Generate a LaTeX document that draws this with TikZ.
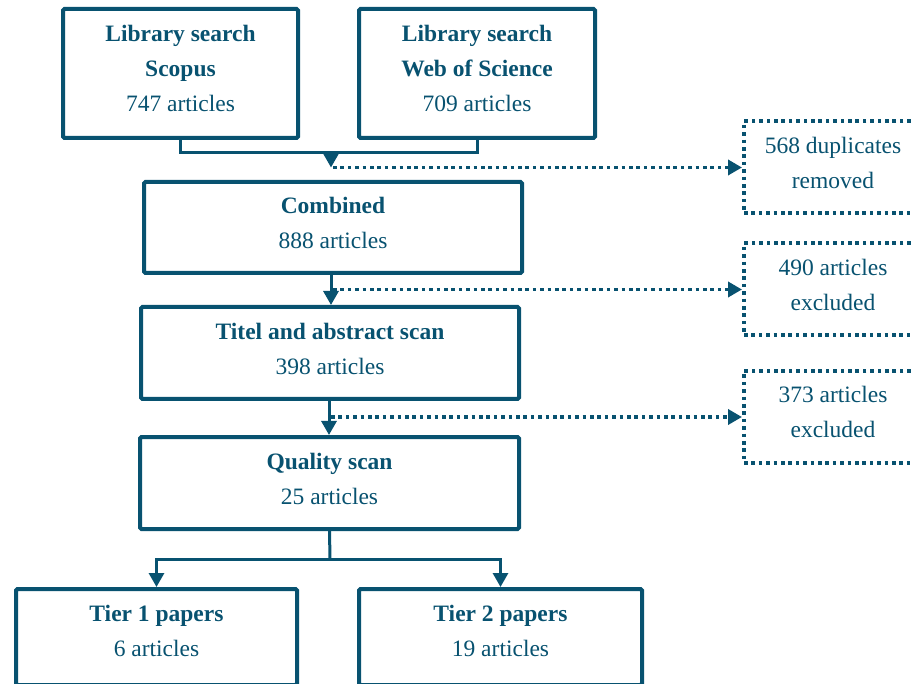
\documentclass[tikz,border=0pt]{standalone}
\usepackage{fontspec}
\setmainfont{Liberation Serif}
\usetikzlibrary{arrows.meta,calc}
\definecolor{teal1}{HTML}{085270}
\newcommand{\updepth}[1]{\rule[-#1]{0pt}{0pt}}
\begin{document}
\begin{tikzpicture}[x=1pt,y=-1pt,
  box/.style={draw=teal1,line width=4pt,rounded corners=1.5pt,align=center,text=teal1,
    font=\fontsize{23.5}{35}\selectfont,inner sep=0pt},
  dbox/.style={draw=teal1,line width=4pt,dash pattern=on 3.6pt off 3.8pt,align=center,text=teal1,
    font=\fontsize{23.5}{35}\selectfont,inner sep=0pt},
  conn/.style={draw=teal1,line width=3pt},
  arr/.style={conn,-{Triangle[width=15pt,length=14pt]}},
  darr/.style={draw=teal1,line width=3.8pt,dash pattern=on 3.6pt off 3.8pt,-{Triangle[width=15pt,length=14pt]}}
]
\clip (0,0) rectangle (913,684);
\useasboundingbox (0,0) rectangle (913,684);
\fill[white] (0,0) rectangle (913,684);

\node[box,minimum width=235pt,minimum height=129pt] (s) at (180.5,73.5) {\textbf{Library search}\\\textbf{Scopus}\\747 articles\updepth{10pt}};
\node[box,minimum width=236pt,minimum height=129pt] (w) at (477,73.5) {\textbf{Library search}\\\textbf{Web of Science}\\709 articles\updepth{10pt}};
\node[box,minimum width=378pt,minimum height=91pt] (c) at (333,227.5) {\textbf{Combined}\\888 articles\updepth{9pt}};
\node[box,minimum width=378pt,minimum height=92pt] (t) at (330,353) {\textbf{Titel and abstract scan}\\398 articles\updepth{9pt}};
\node[box,minimum width=379pt,minimum height=92pt] (q) at (329.5,483) {\textbf{Quality scan}\\25 articles\updepth{9pt}};
\node[box,minimum width=281pt,minimum height=96pt] (t1) at (156.5,637) {\textbf{Tier 1 papers}\\6 articles\updepth{13pt}};
\node[box,minimum width=283pt,minimum height=96pt] (t2) at (500.5,637) {\textbf{Tier 2 papers}\\19 articles\updepth{13pt}};

\node[dbox,minimum width=178pt,minimum height=92pt] (d1) at (833,167.5) {568 duplicates\\removed\updepth{10pt}};
\node[dbox,minimum width=178pt,minimum height=92pt] (d2) at (833,289.5) {490 articles\\excluded\updepth{10pt}};
\node[dbox,minimum width=178pt,minimum height=92pt] (d3) at (833,417) {373 articles\\excluded\updepth{10pt}};

\coordinate (m1) at (331,153);
\draw[conn] (s.south) |- (m1) -| (w.south);
\draw[arr] (m1) -- (m1 |- d1.west);
\draw[darr] ($(m1 |- d1.west)+(2,0)$) -- (d1.west);

\draw[arr] (331,275) coordinate (c2) -- (c2 |- t.north);
\draw[darr] ($(c2 |- d2.west)+(2,0)$) -- (d2.west);

\draw[arr] (329,401) coordinate (c3) -- (c3 |- q.north);
\draw[darr] ($(c3 |- d3.west)+(2,0)$) -- (d3.west);

\coordinate (m4) at (330,559);
\draw[conn] (q.south) -- (m4);
\draw[arr] (m4) -| (t1.north);
\draw[arr] (m4) -| (t2.north);
\end{tikzpicture}
\end{document}
